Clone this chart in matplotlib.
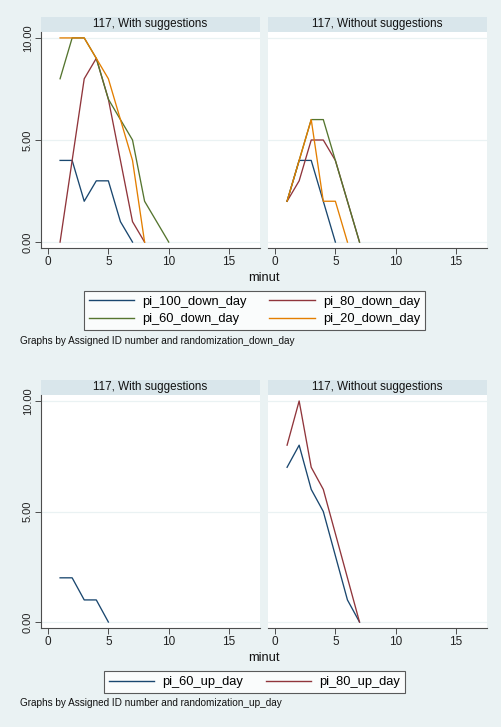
import numpy as np
import matplotlib
matplotlib.use("Agg")
import matplotlib.pyplot as plt
from matplotlib.lines import Line2D

plt.rcParams['font.family'] = ['Liberation Sans', 'DejaVu Sans']

# ---- data ----
panel_titles = ["117, With suggestions", "117, Without suggestions"]

down_names = ["pi_100_down_day", "pi_80_down_day", "pi_60_down_day", "pi_20_down_day"]
down_with = {
    "pi_100_down_day": ([1, 2, 3, 4, 5, 6, 7], [4, 4, 2, 3, 3, 1, 0]),
    "pi_80_down_day": ([1, 2, 3, 4, 5, 6, 7, 8], [0, 4, 8, 9, 7, 4, 1, 0]),
    "pi_60_down_day": ([1, 2, 3, 4, 5, 6, 7, 8, 9, 10], [8, 10, 10, 9, 7, 6, 5, 2, 1, 0]),
    "pi_20_down_day": ([1, 2, 3, 4, 5, 6, 7, 8], [10, 10, 10, 9, 8, 6, 4, 0]),
}
down_without = {
    "pi_100_down_day": ([1, 2, 3, 4, 5], [2, 4, 4, 2, 0]),
    "pi_80_down_day": ([1, 2, 3, 4, 5, 6, 7], [2, 3, 5, 5, 4, 2, 0]),
    "pi_60_down_day": ([1, 2, 3, 4, 5, 6, 7], [2, 4, 6, 6, 4, 2, 0]),
    "pi_20_down_day": ([1, 2, 3, 4, 5, 6], [2, 4, 6, 2, 2, 0]),
}

up_names = ["pi_60_up_day", "pi_80_up_day"]
up_with = {
    "pi_60_up_day": ([1, 2, 3, 4, 5], [2, 2, 1, 1, 0]),
}
up_without = {
    "pi_60_up_day": ([1, 2, 3, 4, 5, 6, 7], [7, 8, 6, 5, 3, 1, 0]),
    "pi_80_up_day": ([1, 2, 3, 4, 5, 6, 7], [8, 10, 7, 6, 4, 2, 0]),
}

x_ticks = [0, 5, 10, 15]
y_ticks = [0, 5, 10]
y_ticklabels = ["0.00", "5.00", "10.00"]

# ---- styles ----
colors = {
    "pi_100_down_day": "#1a476f",
    "pi_80_down_day": "#90353b",
    "pi_60_down_day": "#55752f",
    "pi_20_down_day": "#e37e00",
    "pi_60_up_day": "#1a476f",
    "pi_80_up_day": "#90353b",
}
BG = "#eaf2f3"
STRIP = "#d9e6eb"
AXC = "#4d4d4d"

W, H = 502, 727
fig = plt.figure(figsize=(W / 100, H / 100), dpi=100, facecolor=BG)


def fax(x0, y0, x1, y1, **kw):
    """Axes from pixel box (left, top, right, bottom)."""
    return fig.add_axes([x0 / W, 1 - y1 / H, (x1 - x0) / W, (y1 - y0) / H], **kw)


def panel(x0, x1, strip_top, plot_top, plot_bottom, ymin, ymax, title, series, order, left):
    s = fax(x0, strip_top, x1, plot_top)
    s.set_facecolor(STRIP)
    s.set_xticks([]); s.set_yticks([])
    for sp in s.spines.values():
        sp.set_visible(False)
    s.text(0.5, 0.5, title, ha='center', va='center', fontsize=8.4, color='#111111',
           transform=s.transAxes)

    ax = fax(x0, plot_top, x1, plot_bottom)
    ax.set_facecolor('white')
    ax.set_xlim(-0.58, 17.56)
    ax.set_ylim(ymin, ymax)
    for yv in y_ticks:
        ax.axhline(yv, color=BG, lw=0.9, zorder=0)
    for name in order:
        if name in series:
            xs, ys = series[name]
            ax.plot(xs, ys, color=colors[name], lw=0.95, zorder=2)
    ax.spines['top'].set_visible(False)
    ax.spines['right'].set_visible(False)
    ax.spines['bottom'].set_color(AXC)
    ax.spines['bottom'].set_linewidth(0.8)
    ax.set_xticks(x_ticks)
    ax.tick_params(axis='x', length=4, width=0.7, color=AXC, labelsize=8.5, pad=1.5,
                   labelcolor='#222222')
    if left:
        ax.spines['left'].set_color(AXC)
        ax.spines['left'].set_linewidth(0.8)
        ax.set_yticks(y_ticks)
        ax.set_yticklabels(y_ticklabels, rotation=90, va='center')
        ax.tick_params(axis='y', length=4, width=0.7, color=AXC, labelsize=8.0, pad=2,
                       labelcolor='#222222')
    else:
        ax.spines['left'].set_visible(False)
        ax.set_yticks([])
    return ax


def row_major(items, ncol):
    """Reorder items so a matplotlib legend fills rows first."""
    nrow = int(np.ceil(len(items) / ncol))
    return [items[r * ncol + c] for c in range(ncol) for r in range(nrow)
            if r * ncol + c < len(items)]


def legend(names, cy):
    order = row_major(names, 2)
    handles = [Line2D([], [], color=colors[n], lw=1.0) for n in order]
    lg = fig.legend(handles, order, ncol=2, loc='center',
                    bbox_to_anchor=(254.5 / W, 1 - cy / H), fontsize=9.3,
                    frameon=True, fancybox=False, edgecolor='#333333', facecolor='white',
                    handlelength=3.5, handletextpad=0.65, columnspacing=1.75,
                    labelspacing=0.45, borderpad=0.38, borderaxespad=0)
    lg.get_frame().set_linewidth(0.8)
    return lg


# top block: down-day series
panel(41, 260, 17, 32, 248, -0.29, 10.29, panel_titles[0], down_with, down_names, True)
panel(268, 487, 17, 32, 248, -0.29, 10.29, panel_titles[1], down_without, down_names, False)
fig.text(264 / W, 1 - 278 / H, "minut", ha='center', va='center', fontsize=9.3, color='#111111')
legend(down_names, 310.5)
fig.text(20 / W, 1 - 341 / H, "Graphs by Assigned ID number and randomization_down_day",
         ha='left', va='center', fontsize=7.2, color='#111111')

# bottom block: up-day series
panel(41, 260, 380, 395, 628, -0.27, 10.27, panel_titles[0], up_with, up_names, True)
panel(268, 487, 380, 395, 628, -0.27, 10.27, panel_titles[1], up_without, up_names, False)
fig.text(264 / W, 1 - 658 / H, "minut", ha='center', va='center', fontsize=9.3, color='#111111')
legend(up_names, 682)
fig.text(20 / W, 1 - 703 / H, "Graphs by Assigned ID number and randomization_up_day",
         ha='left', va='center', fontsize=7.2, color='#111111')

fig.savefig("out.png", dpi=100, facecolor=BG)
